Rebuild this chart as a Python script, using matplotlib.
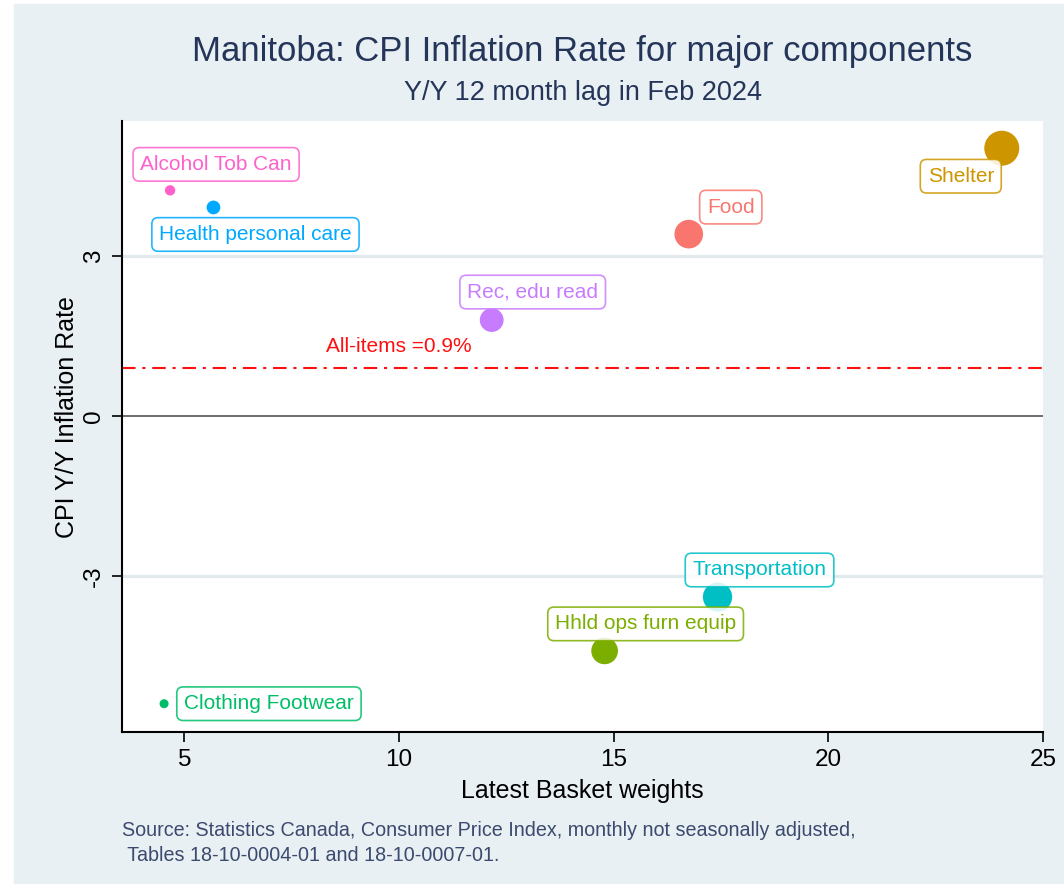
import matplotlib
matplotlib.use("Agg")
import matplotlib.pyplot as plt
from matplotlib.patches import Rectangle
import numpy as np

plt.rcParams['font.family'] = ['Liberation Sans', 'DejaVu Sans']

# ---- data ----
components = ["Alcohol Tob Can", "Health personal care", "Food", "Shelter",
              "Rec, edu read", "Transportation", "Hhld ops furn equip", "Clothing Footwear"]
basket_weights = [4.67, 5.68, 16.75, 24.04, 12.16, 17.42, 14.79, 4.53]
inflation_rates = [4.23, 3.91, 3.41, 5.02, 1.80, -3.39, -4.40, -5.39]
all_items_rate = 0.9
x_ticks = [5, 10, 15, 20, 25]
y_ticks = [-3, 0, 3]

# ---- styles ----
colors = ["#FF61CC", "#00A9FF", "#F8766D", "#CD9600",
          "#C77CFF", "#00BFC4", "#7CAE00", "#00BE67"]
# label offsets (pixels) relative to the point
label_offsets = [(46, 26), (42, -27), (42, 27), (-41, -28),
                 (41, 28), (42, 27), (41, 27), (20, 0)]
label_ha = ["center", "center", "center", "center",
            "center", "center", "center", "left"]

W, H = 1064, 884
fig = plt.figure(figsize=(W / 100, H / 100), dpi=100, facecolor="white")
bg = "#E8F0F3"
fig.patches.append(Rectangle((14 / W, 0), 1 - 14 / W, 1 - 4 / H,
                             transform=fig.transFigure, color=bg, zorder=-10))

left, right, top, bottom = 122, 1043, 121, 732
ax = fig.add_axes([left / W, 1 - bottom / H, (right - left) / W, (bottom - top) / H])
ax.set_facecolor("white")
ax.set_xlim(3.55, 25.0)
ax.set_ylim(-5.92, 5.53)

for s in ["top", "right"]:
    ax.spines[s].set_visible(False)
for s in ["left", "bottom"]:
    ax.spines[s].set_color("black")
    ax.spines[s].set_linewidth(1.5)

ax.set_xticks(x_ticks)
ax.set_yticks(y_ticks)
ax.set_yticklabels([str(v) for v in y_ticks], rotation=90, va="center")
ax.tick_params(axis="both", direction="out", length=7, width=1.2, color="black",
               labelsize=17.5, labelcolor="black", pad=5)

# grid lines at +-3
for v in y_ticks:
    if v != 0:
        ax.axhline(v, color="#E3EAEE", lw=2.4, zorder=0)
ax.axhline(0, color="#6b6b6b", lw=1.4, zorder=1)

# all items line
ax.axhline(all_items_rate, color="#FF1010", lw=1.5,
           linestyle=(0, (6.5, 3.25, 1.5, 3.25)), zorder=2)
ax.text(10, all_items_rate + 0.41, f"All-items ={all_items_rate}%", color="#FF1010",
        fontsize=15, ha="center", va="center", zorder=3)

# marker sizes from weights
w = np.array(basket_weights)
frac = (w - w.min()) / (w.max() - w.min())
diam_px = 9 + 26 * frac ** 0.6
sizes = (diam_px * 0.72) ** 2

ax.scatter(basket_weights, inflation_rates, s=sizes, c=colors, edgecolors="none",
           zorder=4, clip_on=False)

for name, x, y, c, off, ha in zip(components, basket_weights, inflation_rates,
                                  colors, label_offsets, label_ha):
    ax.annotate(name, (x, y), xytext=off, textcoords="offset pixels",
                ha=ha, va="center", fontsize=15, color=c, alpha=1,
                bbox=dict(boxstyle="round,pad=0.35,rounding_size=0.3",
                          fc="white", ec=c, lw=1.2, alpha=0.85),
                zorder=5)

ax.set_xlabel("Latest Basket weights", fontsize=18, labelpad=6)
ax.set_ylabel("CPI Y/Y Inflation Rate", fontsize=18)
ax.yaxis.set_label_coords((79 - left) / (right - left), 0.515)

cx = (left + right) / 2 / W
fig.text(cx, 1 - 51 / H, "Manitoba: CPI Inflation Rate for major components",
         ha="center", va="center", fontsize=25, color="#25355A")
fig.text(cx, 1 - 93 / H, "Y/Y 12 month lag in Feb 2024",
         ha="center", va="center", fontsize=19.5, color="#25355A")
fig.text(122 / W, 1 - 843 / H,
         "Source: Statistics Canada, Consumer Price Index, monthly not seasonally adjusted,\n"
         " Tables 18-10-0004-01 and 18-10-0007-01.",
         ha="left", va="center", fontsize=14.2, color="#3B4A6E", linespacing=1.35)

fig.savefig("out.png", dpi=100, facecolor="white")
